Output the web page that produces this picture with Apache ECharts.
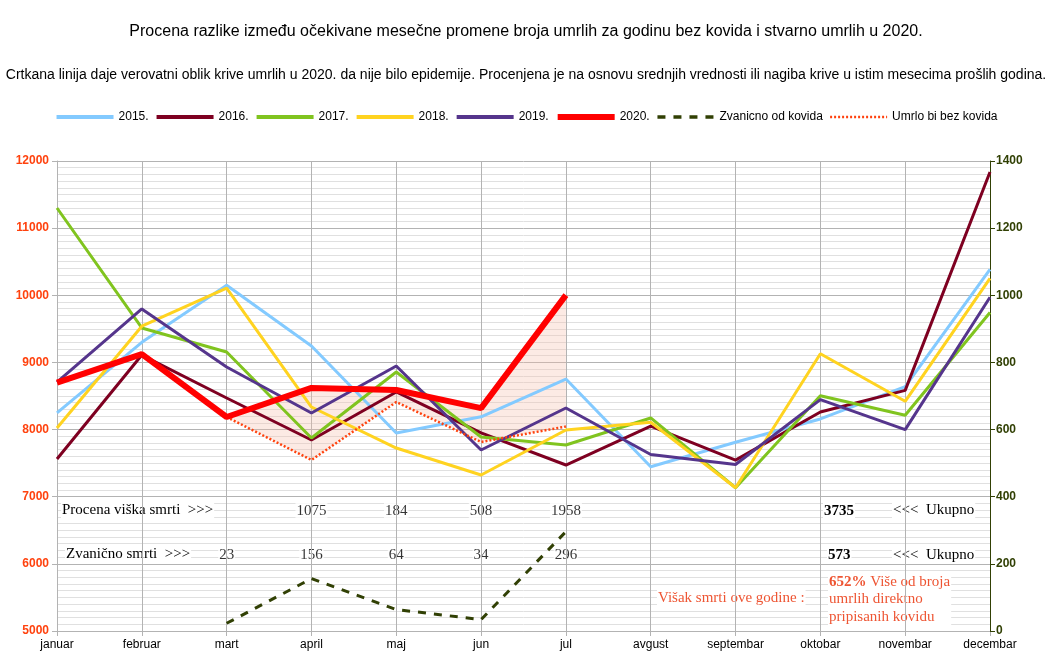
<!DOCTYPE html>
<html>
<head>
<meta charset="utf-8">
<script src="https://cdn.jsdelivr.net/npm/echarts@6/dist/echarts.min.js"></script>
<style>html,body{margin:0;padding:0;background:#fff}#c{width:1052px;height:667px}</style>
</head>
<body>
<div id="c"></div>
<script>
const months = ['januar','februar','mart','april','maj','jun','jul','avgust','septembar','oktobar','novembar','decembar'];
const y2015 = [8250, 9300, 10150, 9245, 7950, 8190, 8753, 7446, 7812, 8158, 8640, 10385];
const y2016 = [7562, 9110, 8470, 7845, 8560, 7950, 7472, 8050, 7545, 8262, 8584, 11837];
const y2017 = [11300, 9513, 9155, 7874, 8857, 7889, 7770, 8173, 7134, 8505, 8213, 9743];
const y2018 = [8023, 9540, 10108, 8336, 7725, 7323, 7993, 8109, 7134, 9129, 8421, 10252];
const y2019 = [8708, 9796, 8932, 8247, 8947, 7696, 8321, 7629, 7480, 8446, 8000, 9970];
const y2020 = [8700, 9125, 8187, 8620, 8590, 8320, 10003, null, null, null, null, null];
const bezKovida = [null, null, 8187, 7547, 8410, 7815, 8045, null, null, null, null, null];
const zvanicno = [null, null, 23, 156, 64, 34, 296, null, null, null, null, null];
const excessLabels = [null, null, null, '1075', '184', '508', '1958', null, null, null, null, null];
const officialLabels = [null, null, '23', '156', '64', '34', '296', null, null, null, null, null];
const totalExcess = '3735';
const totalOfficial = '573';
const percentMore = '652%';
const leftTicks = {min: 5000, max: 12000, interval: 1000};
const rightTicks = {min: 0, max: 1400, interval: 200};

const fillDiff = y2020.map((v, i) => (v != null && bezKovida[i] != null) ? v - bezKovida[i] : null);

const chart = echarts.init(document.getElementById('c'));
const sans = "'Liberation Sans', Arial, sans-serif";
const serif = "'Liberation Serif', 'Times New Roman', serif";
const yearLine = (name, data, color) => ({
  name, type: 'line', data, yAxisIndex: 0, symbol: 'none', z: 3,
  lineStyle: {color, width: 3}, itemStyle: {color}
});
const ROW1 = 6790, ROW2 = 6130;
const labelSeries = (data, yv) => ({
  type: 'scatter', yAxisIndex: 0, symbolSize: 1, silent: true, z: 1,
  itemStyle: {color: 'transparent'},
  data: data.map((t, i) => t == null ? null : {value: [months[i], yv], label: {formatter: t}}).filter(d => d),
  label: {show: true, position: 'inside', color: '#000', fontFamily: serif, fontSize: 15,
          backgroundColor: '#fff', padding: [1, 1]}
});
const txt = (left, top, text, font, fill) => ({type: 'text', left, top, z: 1,
  style: {text, font, fill, backgroundColor: '#fff', padding: [1, 1]}});

chart.setOption({
  animation: false,
  title: [
    {text: 'Procena razlike između očekivane mesečne promene broja umrlih za godinu bez kovida i stvarno umrlih u 2020.',
     left: 'center', top: 19, textStyle: {fontFamily: sans, fontSize: 16, fontWeight: 'normal', color: '#000'}},
    {text: 'Crtkana linija daje verovatni oblik krive umrlih u 2020. da nije bilo epidemije. Procenjena je na osnovu srednjih vrednosti ili nagiba krive u istim mesecima prošlih godina.',
     left: 'center', top: 63, textStyle: {fontFamily: sans, fontSize: 14, fontWeight: 'normal', color: '#000'}}
  ],
  legend: {
    top: 106, left: 'center', itemWidth: 57, itemHeight: 10, itemGap: 6,
    itemStyle: {opacity: 0},
    textStyle: {fontFamily: sans, fontSize: 12, color: '#000'},
    data: [
      {name: '2015.', lineStyle: {width: 4}},
      {name: '2016.', lineStyle: {width: 4}},
      {name: '2017.', lineStyle: {width: 4}},
      {name: '2018.', lineStyle: {width: 4}},
      {name: '2019.', lineStyle: {width: 4}},
      {name: '2020.', lineStyle: {width: 6}},
      {name: 'Zvanicno od kovida', lineStyle: {width: 3.5}},
      {name: 'Umrlo bi bez kovida', lineStyle: {width: 2.5}}
    ]
  },
  grid: {left: 57, right: 62, top: 161, bottom: 36, containLabel: false},
  xAxis: {
    type: 'category', data: months, boundaryGap: false, z: 1.5,
    axisLine: {lineStyle: {color: '#b3b3b3'}},
    axisTick: {show: true, alignWithLabel: true, length: 5, lineStyle: {color: '#b3b3b3'}},
    axisLabel: {color: '#000', fontFamily: sans, fontSize: 12, margin: 8, interval: 0},
    splitLine: {show: true, lineStyle: {color: '#b3b3b3', width: 1}}
  },
  yAxis: [
    {type: 'value', min: leftTicks.min, max: leftTicks.max, interval: leftTicks.interval, z: 0,
     axisLine: {show: true, lineStyle: {color: '#b3b3b3'}},
     axisTick: {show: true, length: 5, lineStyle: {color: '#b3b3b3'}},
     axisLabel: {color: '#ff420e', fontFamily: sans, fontSize: 12, fontWeight: 'bold', margin: 8, formatter: v => String(v)},
     splitLine: {show: true, lineStyle: {color: '#b3b3b3'}},
     minorTick: {show: false, splitNumber: 10},
     minorSplitLine: {show: true, lineStyle: {color: '#e0e0e0'}}},
    {type: 'value', min: rightTicks.min, max: rightTicks.max, interval: rightTicks.interval, position: 'right', z: 2,
     axisLine: {show: true, lineStyle: {color: '#314004'}},
     axisTick: {show: true, length: 5, lineStyle: {color: '#314004'}},
     axisLabel: {color: '#314004', fontFamily: sans, fontSize: 12, fontWeight: 'bold', margin: 6, formatter: v => String(v)},
     splitLine: {show: false}}
  ],
  series: [
    {name: 'fillBase', type: 'line', stack: 'fill', data: bezKovida, yAxisIndex: 0, symbol: 'none', silent: true, z: 2,
     lineStyle: {opacity: 0}, connectNulls: false},
    {name: 'fillDiff', type: 'line', stack: 'fill', data: fillDiff, yAxisIndex: 0, symbol: 'none', silent: true, z: 2,
     lineStyle: {opacity: 0}, areaStyle: {color: 'rgba(246,190,170,0.45)'}},
    yearLine('2015.', y2015, '#83caff'),
    yearLine('2016.', y2016, '#7e0021'),
    yearLine('2017.', y2017, '#80c41f'),
    yearLine('2018.', y2018, '#ffd320'),
    yearLine('2019.', y2019, '#55358c'),
    {name: 'Umrlo bi bez kovida', type: 'line', data: bezKovida, yAxisIndex: 0, symbol: 'none', z: 4,
     lineStyle: {color: '#ff420e', width: 2.5, type: [2, 2]}, itemStyle: {color: '#ff420e'}},
    {name: '2020.', type: 'line', data: y2020, yAxisIndex: 0, symbol: 'none', z: 5,
     lineStyle: {color: '#ff0000', width: 6}, itemStyle: {color: '#ff0000'}},
    {name: 'Zvanicno od kovida', type: 'line', data: zvanicno, yAxisIndex: 1, symbol: 'none', z: 5,
     lineStyle: {color: '#314004', width: 3, type: [8, 8]}, itemStyle: {color: '#314004'}},
    labelSeries(excessLabels, ROW1),
    labelSeries(officialLabels, ROW2)
  ],
  graphic: [
    txt(61, 502, 'Procena viška smrti  >>>', '15px ' + serif, '#000'),
    txt(65, 546, 'Zvanično smrti  >>>', '15px ' + serif, '#000'),
    txt(823, 503, totalExcess, 'bold 15px ' + serif, '#000'),
    txt(892, 502, '<<<  Ukupno', '15px ' + serif, '#000'),
    txt(827, 547, totalOfficial, 'bold 15px ' + serif, '#000'),
    txt(892, 547, '<<<  Ukupno', '15px ' + serif, '#000'),
    txt(657, 590, 'Višak smrti ove godine :', '15px ' + serif, '#ee5533'),
    {type: 'text', left: 828, top: 572, z: 1, style: {
      text: '{b|' + percentMore + '} Više od broja\numrlih direktno\npripisanih kovidu',
      font: '15px ' + serif, fill: '#ee5533', lineHeight: 17.5, backgroundColor: '#fff', padding: [1, 1],
      rich: {b: {fontWeight: 'bold', fontFamily: serif, fontSize: 15, fill: '#ee5533', lineHeight: 17.5}}}}
  ]
});
</script>
</body>
</html>
